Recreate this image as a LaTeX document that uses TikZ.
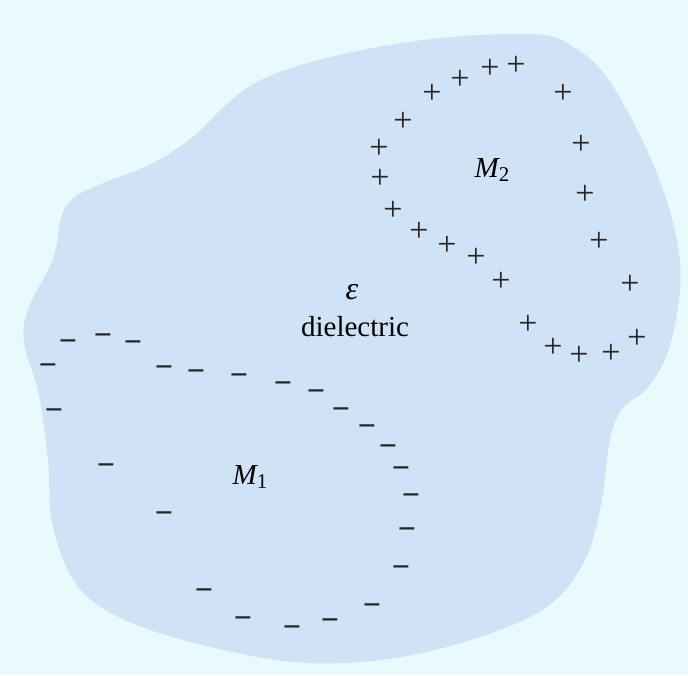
\documentclass[tikz,border=0pt]{standalone}
\usepackage{fontspec}
\setmainfont{Liberation Serif}
\definecolor{bgc}{RGB}{232,250,252}
\definecolor{blobc}{RGB}{207,226,246}
\begin{document}
\begin{tikzpicture}[x=1pt,y=-1pt,
  charge/.style={inner sep=0pt, anchor=base, yshift=-8.5pt, font=\fontsize{34}{34}\selectfont, text=black!85},
  neg/.style={charge, font=\bfseries\fontsize{32}{32}\selectfont},
  lbl/.style={inner sep=0pt, font=\fontsize{29}{34}\selectfont, text=black}]
\useasboundingbox (0,0) rectangle (688,675);
\fill[bgc] (0,0) rectangle (688,675);
\fill[blobc] plot[smooth cycle, tension=0.6] coordinates {
 (189,140) (263,79) (395,44) (530,34) (578,50) (614,88) (658,176) (680,263)
 (671,342) (649,386) (623,408) (610,439) (601,505) (584,562) (548,606)
 (483,636) (395,658) (307,663) (219,649) (132,623) (79,588) (53,527)
 (48,461) (39,395) (24,342) (29,307) (53,259) (66,206) (101,184) (145,167)};
% positive charges
\foreach \x/\y [count=\i] in {403/123, 432/95, 460/81, 490/70, 516/67, 563/95,
  581/146, 585/196, 599/243, 630/286, 637/340, 611/355, 579/357, 553/349,
  528/326, 501/283, 476/259, 447/247, 419/233, 393/212, 380/180, 379/150}
  \node[charge] (p\i) at (\x,\y) {+};
% negative charges
\foreach \x/\y [count=\i] in {68/343, 103/337, 133/344, 48/367, 164/369, 196/373,
  239/377, 283/385, 316/393, 341/411, 367/428, 388/448, 401/470, 411/497,
  407/531, 401/569, 372/607, 330/622, 292/629, 243/620, 204/592, 164/515,
  106/467, 54/412}
  \node[neg] (m\i) at (\x,\y) {−};
\node[lbl, font=\fontsize{32}{34}\selectfont] (eps) at (352,292) {\itshape ε};
\node[lbl] (diel) at (355,327) {dielectric};
\node[lbl] (M2) at (492,170) {\itshape M\raisebox{-0.25ex}{\upshape\fontsize{21}{21}\selectfont 2}};
\node[lbl] (M1) at (250,477) {\itshape M\raisebox{-0.25ex}{\upshape\fontsize{21}{21}\selectfont 1}};
\end{tikzpicture}
\end{document}
